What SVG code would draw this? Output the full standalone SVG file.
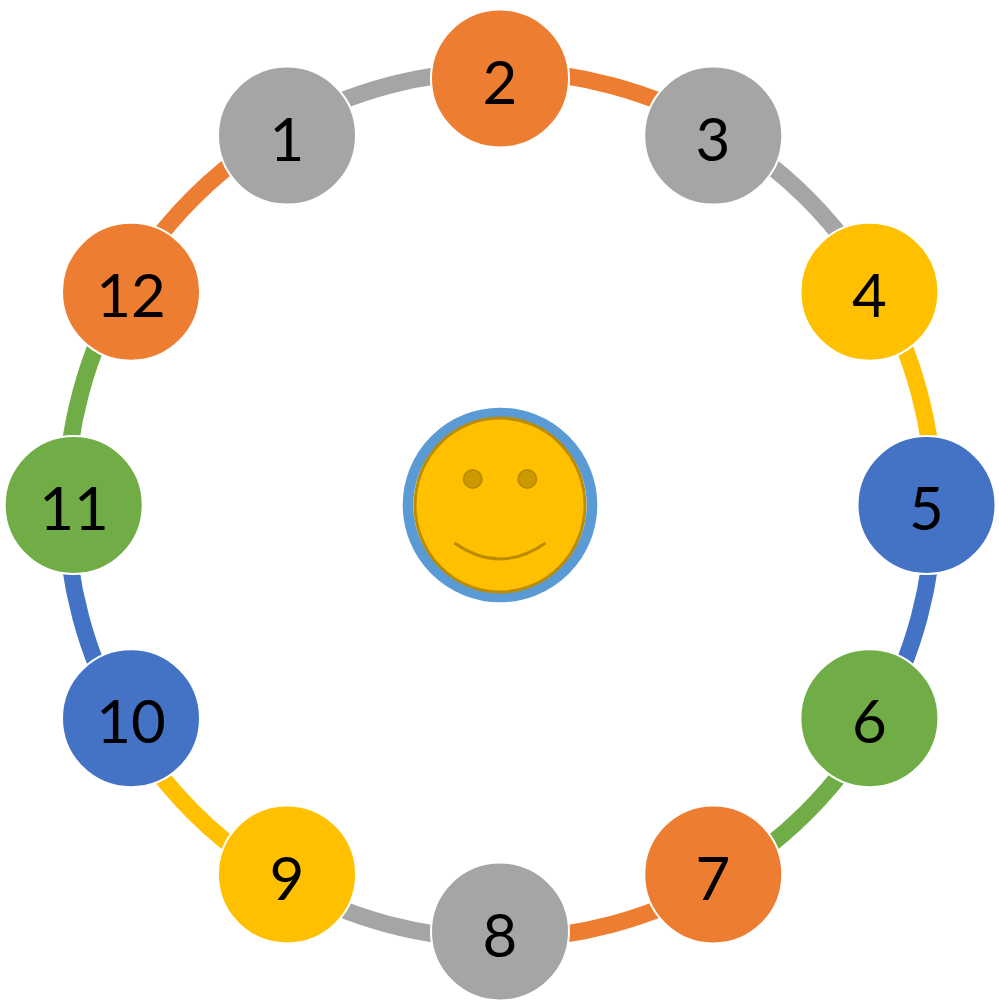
<svg xmlns="http://www.w3.org/2000/svg" width="999" height="1002" viewBox="0 0 999 1002">
<style>
.arc{fill:none;stroke-width:17}
.n{stroke:#fff;stroke-width:2}
.t{font-family:"Lato","Noto Sans",sans-serif;font-size:60px;fill:#000;text-anchor:middle}
.gray{fill:#A5A5A5}.orange{fill:#ED7D31}.yellow{fill:#FFC000}.blue{fill:#4472C4}.green{fill:#70AD47}
</style>
<rect width="999" height="1002" fill="#fff"/>
<g id="connectors">
<path class="arc" stroke="#A5A5A5" d="M283 129.1A434 434 0 0 1 500 71"/>
<path class="arc" stroke="#ED7D31" d="M500 71A434 434 0 0 1 717 129.1"/>
<path class="arc" stroke="#A5A5A5" d="M717 129.1A434 434 0 0 1 875.9 288"/>
<path class="arc" stroke="#FFC000" d="M875.9 288A434 434 0 0 1 934 505"/>
<path class="arc" stroke="#4472C4" d="M934 505A434 434 0 0 1 875.9 722"/>
<path class="arc" stroke="#70AD47" d="M875.9 722A434 434 0 0 1 717 880.9"/>
<path class="arc" stroke="#ED7D31" d="M717 880.9A434 434 0 0 1 500 939"/>
<path class="arc" stroke="#A5A5A5" d="M500 939A434 434 0 0 1 283 880.9"/>
<path class="arc" stroke="#FFC000" d="M283 880.9A434 434 0 0 1 124.1 722"/>
<path class="arc" stroke="#4472C4" d="M124.1 722A434 434 0 0 1 66 505"/>
<path class="arc" stroke="#70AD47" d="M66 505A434 434 0 0 1 124.1 288"/>
<path class="arc" stroke="#ED7D31" d="M124.1 288A434 434 0 0 1 283 129.1"/>
</g>
<g id="node1"><circle class="n gray" cx="287" cy="135.6" r="69"/><text class="t" x="287" y="160.5">1</text></g>
<g id="node2"><circle class="n orange" cx="500" cy="78.5" r="69"/><text class="t" x="500" y="103.5">2</text></g>
<g id="node3"><circle class="n gray" cx="713.25" cy="135.6" r="69"/><text class="t" x="713" y="160.5">3</text></g>
<g id="node4"><circle class="n yellow" cx="869.4" cy="291.75" r="69"/><text class="t" x="869.4" y="316.5">4</text></g>
<g id="node5"><circle class="n blue" cx="926.5" cy="505" r="69"/><text class="t" x="926.5" y="529.5">5</text></g>
<g id="node6"><circle class="n green" cx="869.4" cy="718.25" r="69"/><text class="t" x="869.4" y="743">6</text></g>
<g id="node7"><circle class="n orange" cx="713.25" cy="874.4" r="69"/><text class="t" x="713" y="899.5">7</text></g>
<g id="node8"><circle class="n gray" cx="500" cy="931.5" r="69"/><text class="t" x="500" y="956.5">8</text></g>
<g id="node9"><circle class="n yellow" cx="287" cy="874.4" r="69"/><text class="t" x="287" y="899.5">9</text></g>
<g id="node10"><circle class="n blue" cx="131" cy="718.25" r="69"/><text class="t" x="131" y="743">10</text></g>
<g id="node11"><circle class="n green" cx="73.7" cy="505" r="69"/><text class="t" x="74" y="529.5">11</text></g>
<g id="node12"><circle class="n orange" cx="131" cy="291.75" r="69"/><text class="t" x="131" y="316.5">12</text></g>
<g id="face">
<circle cx="500" cy="505" r="92" fill="none" stroke="#5B9BD5" stroke-width="10.6"/>
<ellipse cx="500" cy="505" rx="85" ry="87" fill="#FFC000" stroke="#BC8C00" stroke-width="3"/>
<circle cx="472.7" cy="479" r="9" fill="#CC9A00" stroke="#BC8C00" stroke-width="2"/>
<circle cx="527.3" cy="479" r="9" fill="#CC9A00" stroke="#BC8C00" stroke-width="2"/>
<path d="M454.5 543Q500 575 545.5 543" fill="none" stroke="#BC8C00" stroke-width="3"/>
</g>
</svg>
